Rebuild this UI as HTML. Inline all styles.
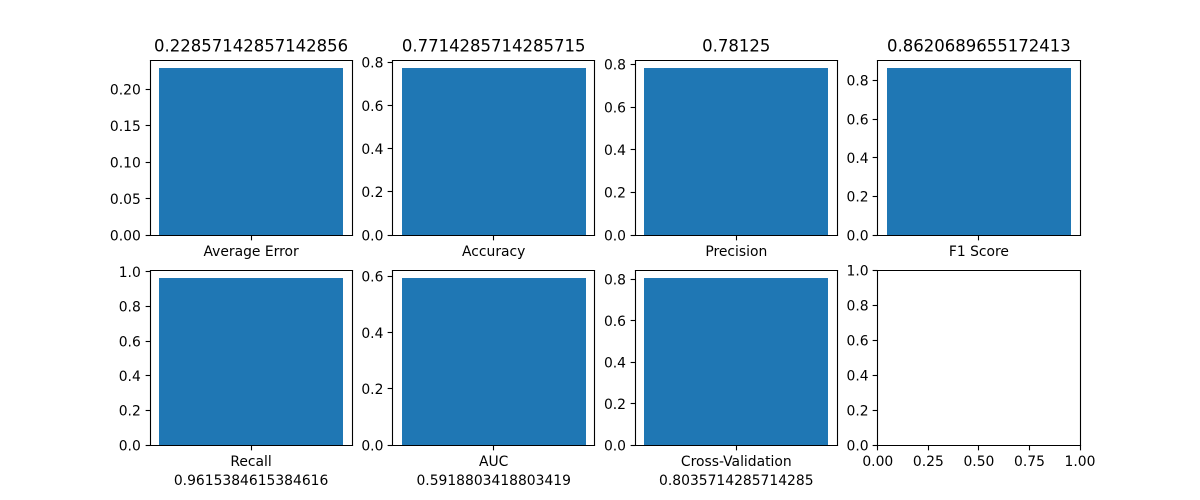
<!DOCTYPE html>
<html lang="en">
<head>
<meta charset="utf-8">
<title>Model metrics bar charts</title>
<style>
  html, body { margin: 0; padding: 0; background: #fff; }
  body { width: 1200px; height: 500px; overflow: hidden; }
  svg { display: block; }
  text { font-family: "DejaVu Sans", "Liberation Sans", sans-serif; fill: #000; }
  .tick-text { font-size: 13.89px; }
  .title-text { font-size: 16.5px; }
</style>
</head>
<body>
<svg id="chart" xmlns="http://www.w3.org/2000/svg" width="1200" height="500" viewBox="0 0 1200 500"></svg>
<script>
const metricNames = ['Average Error', 'Accuracy', 'Precision', 'F1 Score', 'Recall', 'AUC', 'Cross-Validation'];
const metricValues = [0.22857142857142856, 0.7714285714285715, 0.78125, 0.8620689655172413, 0.9615384615384616, 0.5918803418803419, 0.8035714285714285];
const yTickLabels = [
  ['0.00', '0.05', '0.10', '0.15', '0.20'],
  ['0.0', '0.2', '0.4', '0.6', '0.8'],
  ['0.0', '0.2', '0.4', '0.6', '0.8'],
  ['0.0', '0.2', '0.4', '0.6', '0.8'],
  ['0.0', '0.2', '0.4', '0.6', '0.8', '1.0'],
  ['0.0', '0.2', '0.4', '0.6'],
  ['0.0', '0.2', '0.4', '0.6', '0.8']
];
const emptyTickLabels = ['0.00', '0.25', '0.50', '0.75', '1.00'];
const emptyYTickLabels = ['0.0', '0.2', '0.4', '0.6', '0.8', '1.0'];

const NS = 'http://www.w3.org/2000/svg';
const svg = document.getElementById('chart');
const FIG_W = 1200, FIG_H = 500;
const LEFT = 0.125 * FIG_W, RIGHT = 0.9 * FIG_W, TOP = 0.12 * FIG_H, BOTTOM = 0.89 * FIG_H;
const AX_W = (RIGHT - LEFT) / (4 + 3 * 0.2);
const AX_H = (BOTTOM - TOP) / (2 + 0.2);
const TICK = 4.86;
const BAR_WIDTH = 0.8, X_HALF = 0.44;

function snap(v) { return Math.floor(v + 1e-6) + 0.5; }

function line(parent, x1, y1, x2, y2) {
  const n = document.createElementNS(NS, 'line');
  n.setAttribute('x1', x1);
  n.setAttribute('y1', y1);
  n.setAttribute('x2', x2);
  n.setAttribute('y2', y2);
  n.setAttribute('stroke', '#000');
  n.setAttribute('stroke-width', '1.11');
  n.setAttribute('stroke-linecap', 'square');
  parent.appendChild(n);
  return n;
}

function label(parent, x, y, anchor, cls, str) {
  const n = document.createElementNS(NS, 'text');
  n.setAttribute('x', x);
  n.setAttribute('y', y);
  n.setAttribute('text-anchor', anchor);
  n.setAttribute('class', cls);
  n.textContent = str;
  parent.appendChild(n);
  return n;
}

function axesFrame(col, row) {
  const x0 = LEFT + col * AX_W * 1.2;
  const y0 = TOP + row * AX_H * 1.2;
  return { x0: x0, x1: x0 + AX_W, y0: y0, y1: y0 + AX_H };
}

function drawSpines(g, f) {
  const l = snap(f.x0), r = snap(f.x1), t = snap(f.y0), b = snap(f.y1);
  const left = line(g, l, t, l, b);
  
  
  const right = line(g, r, t, r, b);
  
  
  const top = line(g, l, t, r, t);
  
  
  const bottom = line(g, l, b, r, b);
  
  
}

function drawYTicks(g, f, labels, yScale, yMax) {
  labels.forEach(function (t) {
    const v = parseFloat(t);
    if (v > yMax) return;
    const y = snap(yScale(v));
    const mark = line(g, snap(f.x0) - TICK, y, snap(f.x0), y);
    mark.setAttribute('stroke-linecap', 'butt');
    
    
    const txt = label(g, f.x0 - 9.2, yScale(v) + 5.4, 'end', 'tick-text', t);
    
    
  });
}

metricNames.forEach(function (name, i) {
  const row = i < 4 ? 0 : 1;
  const col = i % 4;
  const f = axesFrame(col, row);
  const value = metricValues[i];
  const yMax = value * 1.05;
  const yScale = function (v) { return f.y1 - (v / yMax) * AX_H; };
  const xScale = function (v) { return f.x0 + ((v + X_HALF) / (2 * X_HALF)) * AX_W; };

  const g = document.createElementNS(NS, 'g');
  
  
  svg.appendChild(g);

  const bx0 = Math.round(xScale(-BAR_WIDTH / 2));
  const bx1 = Math.round(xScale(BAR_WIDTH / 2));
  const by0 = Math.round(yScale(value));
  const by1 = Math.floor(f.y1) + 0.5;
  const bar = document.createElementNS(NS, 'rect');
  bar.setAttribute('x', bx0);
  bar.setAttribute('y', by0);
  bar.setAttribute('width', bx1 - bx0);
  bar.setAttribute('height', by1 - by0);
  bar.setAttribute('fill', '#1f77b4');
  
  
  g.appendChild(bar);

  drawYTicks(g, f, yTickLabels[i], yScale, yMax);

  const cx = xScale(0);
  const xMark = line(g, snap(cx), snap(f.y1), snap(cx), snap(f.y1) + TICK);
  xMark.setAttribute('stroke-linecap', 'butt');
  
  

  const xLbl = label(g, cx, f.y1 + 21, 'middle', 'tick-text', name);
  
  

  if (row === 0) {
    const title = label(g, cx, f.y0 - 8.3, 'middle', 'title-text', String(value));
    
    
  } else {
    const xTitle = label(g, cx, f.y1 + 40, 'middle', 'tick-text', String(value));
    
    
  }

  drawSpines(g, f);
});

(function drawEmptyPanel() {
  const f = axesFrame(3, 1);
  const g = document.createElementNS(NS, 'g');
  
  
  svg.appendChild(g);
  const yScale = function (v) { return f.y1 - v * AX_H; };
  const xScale = function (v) { return f.x0 + v * AX_W; };
  drawYTicks(g, f, emptyYTickLabels, yScale, 1);
  emptyTickLabels.forEach(function (t) {
    const v = parseFloat(t);
    const x = snap(xScale(v));
    const mark = line(g, x, snap(f.y1), x, snap(f.y1) + TICK);
    mark.setAttribute('stroke-linecap', 'butt');
    
    
    const txt = label(g, xScale(v), f.y1 + 21, 'middle', 'tick-text', t);
    
    
  });
  drawSpines(g, f);
})();
</script>
</body>
</html>
